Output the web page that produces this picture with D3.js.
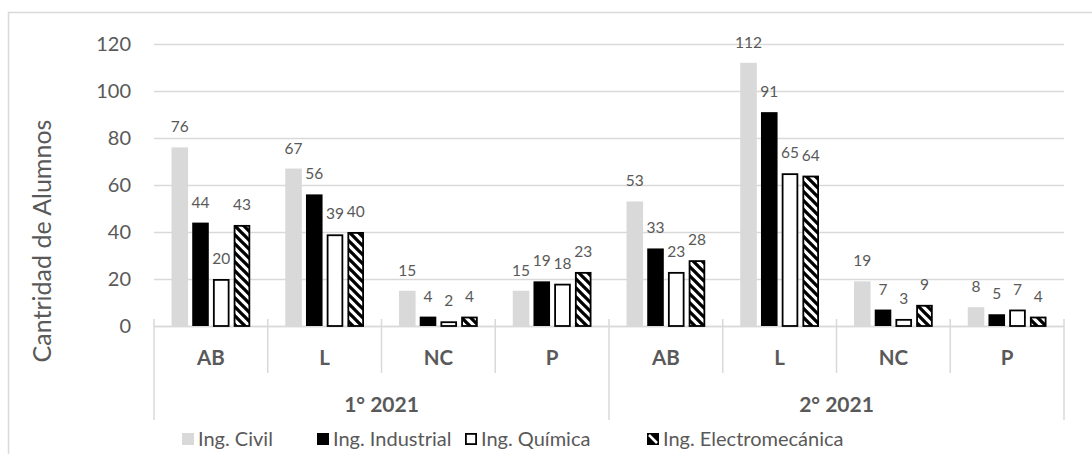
<!DOCTYPE html>
<html>
<head>
<meta charset="utf-8">
<script src="https://cdn.jsdelivr.net/npm/d3@7"></script>
<style>
  html, body { margin: 0; padding: 0; background: #fff; }
  svg { display: block; font-family: Lato, "Open Sans", sans-serif; }
</style>
</head>
<body>
<svg id="chart" width="1092" height="454"></svg>
<script>
// ---- data ----
const semesters = ["1° 2021", "2° 2021"];
const categories = ["AB", "L", "NC", "P"];
const seriesNames = ["Ing. Civil", "Ing. Industrial", "Ing. Química", "Ing. Electromecánica"];
const civil      = [76, 67, 15, 15, 53, 112, 19, 8];
const industrial = [44, 56, 4, 19, 33, 91, 7, 5];
const quimica    = [20, 39, 2, 18, 23, 65, 3, 7];
const electro    = [43, 40, 4, 23, 28, 64, 9, 4];
const yTicks = [0, 20, 40, 60, 80, 100, 120];
const yTitle = "Cantridad de Alumnos";

(function () {
// ---- build table ----
const groups = [];
semesters.forEach((s, si) => categories.forEach((c, ci) => groups.push({ key: si + "-" + c, sem: s, cat: c, idx: si * categories.length + ci })));
const seriesValues = [civil, industrial, quimica, electro];

const svg = d3.select("#chart");
const grid = "#d9d9d9";
const txt = "#595959";

// pattern
const P = 9;
const defs = svg.append("defs");
const pat = defs.append("pattern").attr("id", "hatch").attr("patternUnits", "userSpaceOnUse")
  .attr("width", P).attr("height", P);
pat.append("rect").attr("width", P).attr("height", P).attr("fill", "#fff");
pat.append("path").attr("d", `M-2,-2 L${P + 2},${P + 2} M-2,${P - 2} L2,${P + 2} M${P - 2},-2 L${P + 2},2`)
  .attr("stroke", "#000").attr("stroke-width", 3.3);

// chart border
svg.append("rect").attr("x", 8.5).attr("y", 12.5).attr("width", 1100).attr("height", 460)
  .attr("fill", "none").attr("stroke", grid).attr("stroke-width", 1.5);

const pLeft = 154, pRight = 1064, pTop = 44, base = 326;
const y = d3.scaleLinear().domain([0, 120]).range([base, pTop]);
const x0 = d3.scaleBand().domain(groups.map(g => g.key)).range([pLeft, pRight]).padding(0);
const gw = x0.bandwidth();
const x1 = d3.scaleBand().domain(d3.range(seriesNames.length)).range([17.5, gw - 17.5]).paddingInner(0.2).paddingOuter(0);

// gridlines + tick labels
const yAxis = d3.axisLeft(y).tickValues(yTicks).tickSize(-(pRight - pLeft)).tickPadding(23);
const ga = svg.append("g").attr("transform", `translate(${pLeft},0)`).call(yAxis);
ga.select(".domain").remove();
ga.selectAll(".tick line").attr("stroke", grid).attr("stroke-width", 1.5);
ga.selectAll(".tick text").attr("fill", txt).attr("font-size", 20).attr("font-family", "Lato");

// y title
svg.append("text").attr("transform", `translate(51,241) rotate(-90)`)
  .attr("text-anchor", "middle").attr("fill", txt).attr("font-size", 25).text(yTitle);

// category axis
const axisG = svg.append("g");
axisG.append("line").attr("x1", pLeft).attr("x2", pRight).attr("y1", base + 0.5).attr("y2", base + 0.5)
  .attr("stroke", grid).attr("stroke-width", 1.5);
const bounds = groups.map(g => x0(g.key)).concat([pRight]);
bounds.forEach((bx, i) => {
  const outer = i % categories.length === 0;
  axisG.append("line").attr("x1", bx).attr("x2", bx).attr("y1", base - 7)
    .attr("y2", outer ? base + 94 : base + 47).attr("stroke", grid).attr("stroke-width", 1.5);
});
axisG.selectAll("text.cat").data(groups).join("text").attr("class", "cat")
  .attr("x", d => x0(d.key) + gw / 2).attr("y", base + 39)
  .attr("text-anchor", "middle").attr("font-weight", "bold").attr("font-size", 20.5).attr("fill", txt)
  .text(d => d.cat);
axisG.selectAll("text.sem").data(semesters).join("text").attr("class", "sem")
  .attr("x", (d, i) => (x0(i + "-" + categories[0]) + x0(i + "-" + categories[categories.length - 1]) + gw) / 2)
  .attr("y", base + 86)
  .attr("text-anchor", "middle").attr("font-weight", "bold").attr("font-size", 21).attr("fill", txt)
  .text(d => d);

// bars
const styles = [
  { fill: "#d9d9d9", stroke: "none" },
  { fill: "#000", stroke: "none" },
  { fill: "#fff", stroke: "#000" },
  { fill: "url(#hatch)", stroke: "#000" }
];
const bars = [];
groups.forEach(g => seriesValues.forEach((vals, si) => bars.push({ g, si, v: vals[g.idx] })));
const bg = svg.append("g");
bg.selectAll("rect").data(bars).join("rect")
  .attr("x", d => x0(d.g.key) + x1(d.si) + (styles[d.si].stroke === "none" ? 0 : 0.9))
  .attr("y", d => y(d.v) + (styles[d.si].stroke === "none" ? 0 : 0.9))
  .attr("width", d => x1.bandwidth() - (styles[d.si].stroke === "none" ? 0 : 1.8))
  .attr("height", d => base - y(d.v) - (styles[d.si].stroke === "none" ? 0 : 0.9))
  .attr("fill", d => styles[d.si].fill).attr("stroke", d => styles[d.si].stroke).attr("stroke-width", 1.8);

// value labels
bg.selectAll("text").data(bars).join("text")
  .attr("x", d => x0(d.g.key) + x1(d.si) + x1.bandwidth() / 2)
  .attr("y", d => y(d.v) - 15)
  .attr("text-anchor", "middle").attr("font-size", 15.5).attr("fill", txt)
  .text(d => d.v);

// legend
const legX = [182, 317, 465, 647];
const lg = svg.append("g");
seriesNames.forEach((n, i) => {
  const lx = legX[i];
  const s = i >= 2 ? 0.9 : 0;
  lg.append("rect").attr("x", lx + s).attr("y", 433 + s)
    .attr("width", 12 - 2 * s).attr("height", 12 - 2 * s)
    .attr("fill", i === 3 ? "#000" : styles[i].fill).attr("stroke", styles[i].stroke).attr("stroke-width", 1.8);
  if (i === 3) {
    lg.append("line").attr("x1", lx + 2).attr("y1", 435).attr("x2", lx + 10).attr("y2", 443)
      .attr("stroke", "#fff").attr("stroke-width", 2.5);
  }
  lg.append("text").attr("x", lx + 16).attr("y", 446).attr("font-size", 20).attr("fill", txt).text(n);
});
})();
</script>
</body>
</html>
